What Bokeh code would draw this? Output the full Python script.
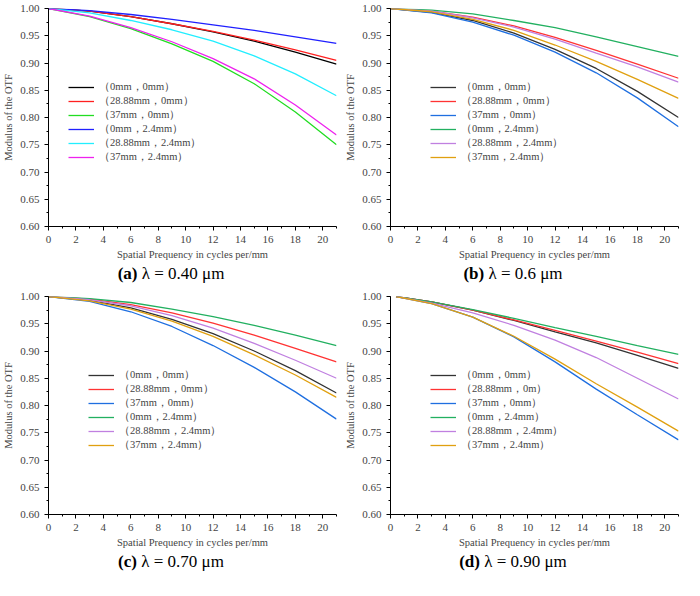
from bokeh.plotting import figure
from bokeh.layouts import column, row
from bokeh.models import Div, Legend, LegendItem, Range1d, FixedTicker, PrintfTickFormatter
from bokeh.embed import file_html
from bokeh.resources import INLINE

x = [0, 3, 6, 9, 12, 15, 18, 21]
x_d = [0.4, 3, 6, 9, 12, 15, 18, 21]
labels = ["（0mm，0mm）", "（28.88mm，0mm）", "（37mm，0mm）", "（0mm，2.4mm）", "（28.88mm，2.4mm）", "（37mm，2.4mm）"]
labels_d = ["（0mm，0mm）", "（28.88mm，0m）", "（37mm，0mm）", "（0mm，2.4mm）", "（28.88mm，2.4mm）", "（37mm，2.4mm）"]
captions = ["0.40", "0.6", "0.70", "0.90"]

a_vals = [
    [1, .995, .985, .972, .957, .94, .92, .898],
    [1, .995, .985, .972, .958, .942, .924, .905],
    [1, .985, .963, .935, .903, .862, .81, .75],
    [1, .996, .989, .98, .97, .96, .948, .936],
    [1, .992, .978, .961, .94, .913, .88, .84],
    [1, .986, .965, .939, .908, .871, .823, .768],
]
b_vals = [
    [1, .993, .978, .955, .925, .89, .848, .80],
    [1, .995, .984, .968, .947, .923, .898, .872],
    [1, .992, .975, .951, .92, .882, .836, .783],
    [1, .997, .99, .978, .965, .948, .93, .912],
    [1, .995, .983, .966, .944, .918, .893, .865],
    [1, .994, .98, .96, .933, .903, .87, .835],
]
c_vals = [
    [1, .993, .979, .958, .932, .9, .864, .823],
    [1, .995, .985, .97, .951, .929, .905, .88],
    [1, .991, .972, .945, .91, .87, .825, .775],
    [1, .996, .989, .977, .963, .947, .929, .91],
    [1, .994, .983, .965, .942, .914, .883, .85],
    [1, .992, .977, .955, .927, .893, .856, .815],
]
d_vals = [
    [1, .99, .975, .956, .935, .915, .892, .868],
    [1, .99, .975, .957, .938, .918, .898, .877],
    [1, .987, .962, .926, .88, .83, .783, .737],
    [1, .99, .976, .96, .943, .927, .91, .894],
    [1, .988, .97, .947, .92, .888, .85, .812],
    [1, .987, .962, .927, .885, .84, .797, .753],
]

colors_a = ["black", "#ff2020", "#22dd22", "#2020ff", "#22eeff", "#ee22ee"]
colors_b = ["#333333", "#ff3333", "#1f6fe0", "#22b060", "#c080e0", "#e0a010"]

FONT = "Liberation Serif"

def make(xs, vals, labs, colors, letter, lam):
    p = figure(width=342, height=262, output_backend="svg", toolbar_location=None,
               x_range=Range1d(0, 21), y_range=Range1d(0.6, 1.0),
               min_border_left=48, min_border_right=6, min_border_top=8, min_border_bottom=36)
    items = []
    for v, c, l in zip(vals, colors, labs):
        r = p.line(xs, v, line_color=c, line_width=1.3)
        items.append(LegendItem(label=l, renderers=[r]))
    leg = Legend(items=items)
    leg.margin = 0
    leg.padding = 0
    leg.spacing = -4
    leg.border_line_color = None
    leg.background_fill_alpha = 0
    leg.label_text_font = FONT
    leg.label_text_font_size = "10.5px"
    leg.glyph_width = 26
    leg.label_height = 12
    leg.glyph_height = 12
    p.add_layout(leg, "center")
    leg.location = (20, 62) if letter == "a" else (40, 62)
    p.xaxis.ticker = FixedTicker(ticks=list(range(0, 21, 2)), minor_ticks=list(range(0, 22)))
    p.yaxis.ticker = FixedTicker(ticks=[0.6 + 0.05 * i for i in range(9)],
                                 minor_ticks=[0.6 + 0.025 * i for i in range(17)])
    p.yaxis.formatter = PrintfTickFormatter(format="%.2f")
    p.xaxis.axis_label = "Spatial Prequency in cycles per/mm"
    p.yaxis.axis_label = "Modulus of the OTF"
    for ax in (p.xaxis[0], p.yaxis[0]):
        ax.axis_label_text_font = FONT
        ax.axis_label_text_font_style = "normal"
        ax.axis_label_text_font_size = "10.5px"
        ax.major_label_text_font = FONT
        ax.major_label_text_font_size = "11px"
        ax.axis_label_standoff = 3
        ax.major_tick_out = 4
        ax.major_tick_in = 0
        ax.minor_tick_out = 2
        ax.minor_tick_in = 0
    p.grid.visible = False
    p.outline_line_color = None
    cap = Div(text=f'<div style="font-family:{FONT};font-size:17px;text-align:center;width:342px">'
                   f'<b>({letter})</b> λ = {lam} μm</div>', width=342, height=26,
              styles={"margin": "0"})
    return column(p, cap, spacing=0)

pa = make(x, a_vals, labels, colors_a, "a", captions[0])
pb = make(x, b_vals, labels, colors_b, "b", captions[1])
pc = make(x, c_vals, labels, colors_b, "c", captions[2])
pd_ = make(x_d, d_vals, labels_d, colors_b, "d", captions[3])

layout = column(row(pa, pb, spacing=0), row(pc, pd_, spacing=0), spacing=0)
open("out.html", "w").write(file_html(layout, INLINE))
